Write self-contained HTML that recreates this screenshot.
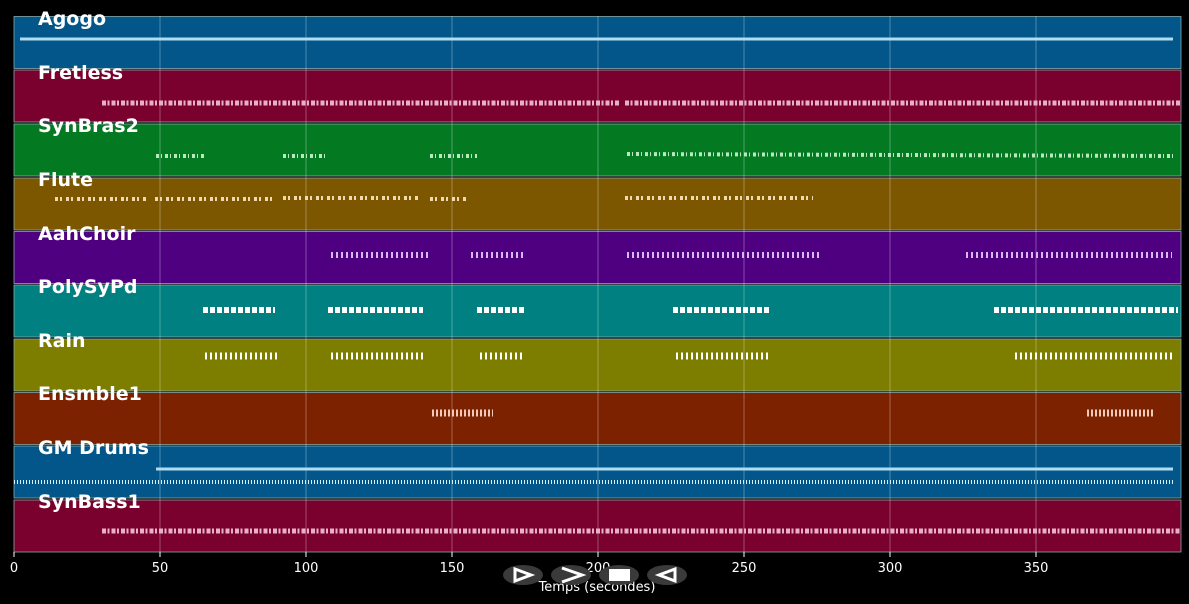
<!DOCTYPE html>
<html><head><meta charset="utf-8"><style>
html,body{margin:0;padding:0;background:#000;}
svg{display:block}
text{font-family:"DejaVu Sans","Liberation Sans",sans-serif;}
</style></head><body>
<svg width="1189" height="604" viewBox="0 0 1189 604">
<rect width="1189" height="604" fill="#000"/>
<g stroke="#8aa" stroke-width="0.8">
<rect x="14" y="16.5" width="1167" height="52" fill="#02568a"/>
<rect x="14" y="70" width="1167" height="52" fill="#7a002e"/>
<rect x="14" y="124" width="1167" height="52" fill="#037a22"/>
<rect x="14" y="178" width="1167" height="52" fill="#7d5600"/>
<rect x="14" y="231.5" width="1167" height="52" fill="#4f0080"/>
<rect x="14" y="285" width="1167" height="52" fill="#008080"/>
<rect x="14" y="339" width="1167" height="52" fill="#7d7d00"/>
<rect x="14" y="392.5" width="1167" height="52" fill="#7d2200"/>
<rect x="14" y="446" width="1167" height="52" fill="#02568a"/>
<rect x="14" y="500" width="1167" height="52" fill="#7a002e"/>
</g>
<g stroke="#ffffff" stroke-opacity="0.3" stroke-width="1">
<line x1="160" y1="16" x2="160" y2="552"/><line x1="306" y1="16" x2="306" y2="552"/>
<line x1="452" y1="16" x2="452" y2="552"/><line x1="598" y1="16" x2="598" y2="552"/>
<line x1="744" y1="16" x2="744" y2="552"/><line x1="890" y1="16" x2="890" y2="552"/>
<line x1="1036" y1="16" x2="1036" y2="552"/>
</g>
<line x1="20" y1="39" x2="1173" y2="39" stroke="#b0dcf0" stroke-width="3"/>
<g stroke="#e8b0c8" stroke-width="5" stroke-dasharray="4 1.5 2 2">
<line x1="102" y1="103" x2="620" y2="103"/><line x1="625" y1="103" x2="1180" y2="103"/>
<line x1="102" y1="531" x2="1180" y2="531"/>
</g>
<g stroke="#b8e8c0" stroke-width="4" stroke-dasharray="3 2 1 3">
<line x1="156" y1="156" x2="204" y2="156"/><line x1="283" y1="156" x2="328" y2="156"/>
<line x1="430" y1="156" x2="477" y2="156"/><line x1="627" y1="154" x2="1175" y2="156"/>
</g>
<g stroke="#f0d8b0" stroke-width="4" stroke-dasharray="3 2 2 4">
<line x1="55" y1="199" x2="147" y2="199"/><line x1="155" y1="199" x2="273" y2="199"/>
<line x1="283" y1="198" x2="420" y2="198"/><line x1="430" y1="199" x2="466" y2="199"/>
<line x1="625" y1="198" x2="813" y2="198"/>
</g>
<g stroke="#d8b8f0" stroke-width="6" stroke-dasharray="2 3">
<line x1="331" y1="255" x2="430" y2="255"/><line x1="471" y1="255" x2="524" y2="255"/>
<line x1="627" y1="255" x2="820" y2="255"/><line x1="966" y1="255" x2="1172" y2="255"/>
</g>
<g stroke="#ffffff" stroke-width="6" stroke-dasharray="5 2">
<line x1="203" y1="310" x2="275" y2="310"/><line x1="328" y1="310" x2="423" y2="310"/>
<line x1="477" y1="310" x2="524" y2="310"/><line x1="673" y1="310" x2="770" y2="310"/>
<line x1="994" y1="310" x2="1178" y2="310"/>
</g>
<g stroke="#ffffff" stroke-width="7" stroke-dasharray="2 3">
<line x1="205" y1="356" x2="277" y2="356"/><line x1="331" y1="356" x2="424" y2="356"/>
<line x1="480" y1="356" x2="525" y2="356"/><line x1="676" y1="356" x2="769" y2="356"/>
<line x1="1015" y1="356" x2="1175" y2="356"/>
</g>
<g stroke="#f0c8b8" stroke-width="7" stroke-dasharray="2 2">
<line x1="432" y1="413" x2="493" y2="413"/><line x1="1087" y1="413" x2="1153" y2="413"/>
</g>
<line x1="156" y1="469" x2="1173" y2="469" stroke="#b0dcf0" stroke-width="3"/>
<line x1="14" y1="482" x2="1175" y2="482" stroke="#d8eef8" stroke-width="4" stroke-dasharray="1 2"/>
<g fill="#fff" font-weight="bold" font-size="19">
<text x="38" y="25">Agogo</text><text x="38" y="79">Fretless</text>
<text x="38" y="132">SynBras2</text><text x="38" y="186">Flute</text>
<text x="38" y="240">AahChoir</text><text x="38" y="293">PolySyPd</text>
<text x="38" y="347">Rain</text><text x="38" y="400">Ensmble1</text>
<text x="38" y="454">GM Drums</text><text x="38" y="508">SynBass1</text>
</g>
<g stroke="#fff" stroke-width="1">
<line x1="14" y1="552" x2="14" y2="557"/><line x1="160" y1="552" x2="160" y2="557"/>
<line x1="306" y1="552" x2="306" y2="557"/><line x1="452" y1="552" x2="452" y2="557"/>
<line x1="598" y1="552" x2="598" y2="557"/><line x1="744" y1="552" x2="744" y2="557"/>
<line x1="890" y1="552" x2="890" y2="557"/><line x1="1036" y1="552" x2="1036" y2="557"/>
</g>
<g fill="#fff" font-size="13" text-anchor="middle">
<text x="14" y="572">0</text><text x="160" y="572">50</text><text x="306" y="572">100</text>
<text x="452" y="572">150</text><text x="598" y="572">200</text><text x="744" y="572">250</text>
<text x="890" y="572">300</text><text x="1036" y="572">350</text>
<text x="597" y="591">Temps (secondes)</text>
</g>
<g fill="#3a3a3a">
<ellipse cx="523" cy="575" rx="20" ry="10"/><ellipse cx="571" cy="575" rx="20" ry="10"/>
<ellipse cx="619" cy="575" rx="20" ry="10"/><ellipse cx="667" cy="575" rx="20" ry="10"/>
</g>
<g fill="none" stroke="#fff" stroke-width="3">
<path d="M515 569 L531 575 L515 581 Z"/><path d="M562 568 L582 575 L562 582"/>
<path d="M675 569 L659 575 L675 581 Z"/>
</g>
<rect x="609" y="569" width="21" height="12" fill="#fff"/>
</svg>
</body></html>
